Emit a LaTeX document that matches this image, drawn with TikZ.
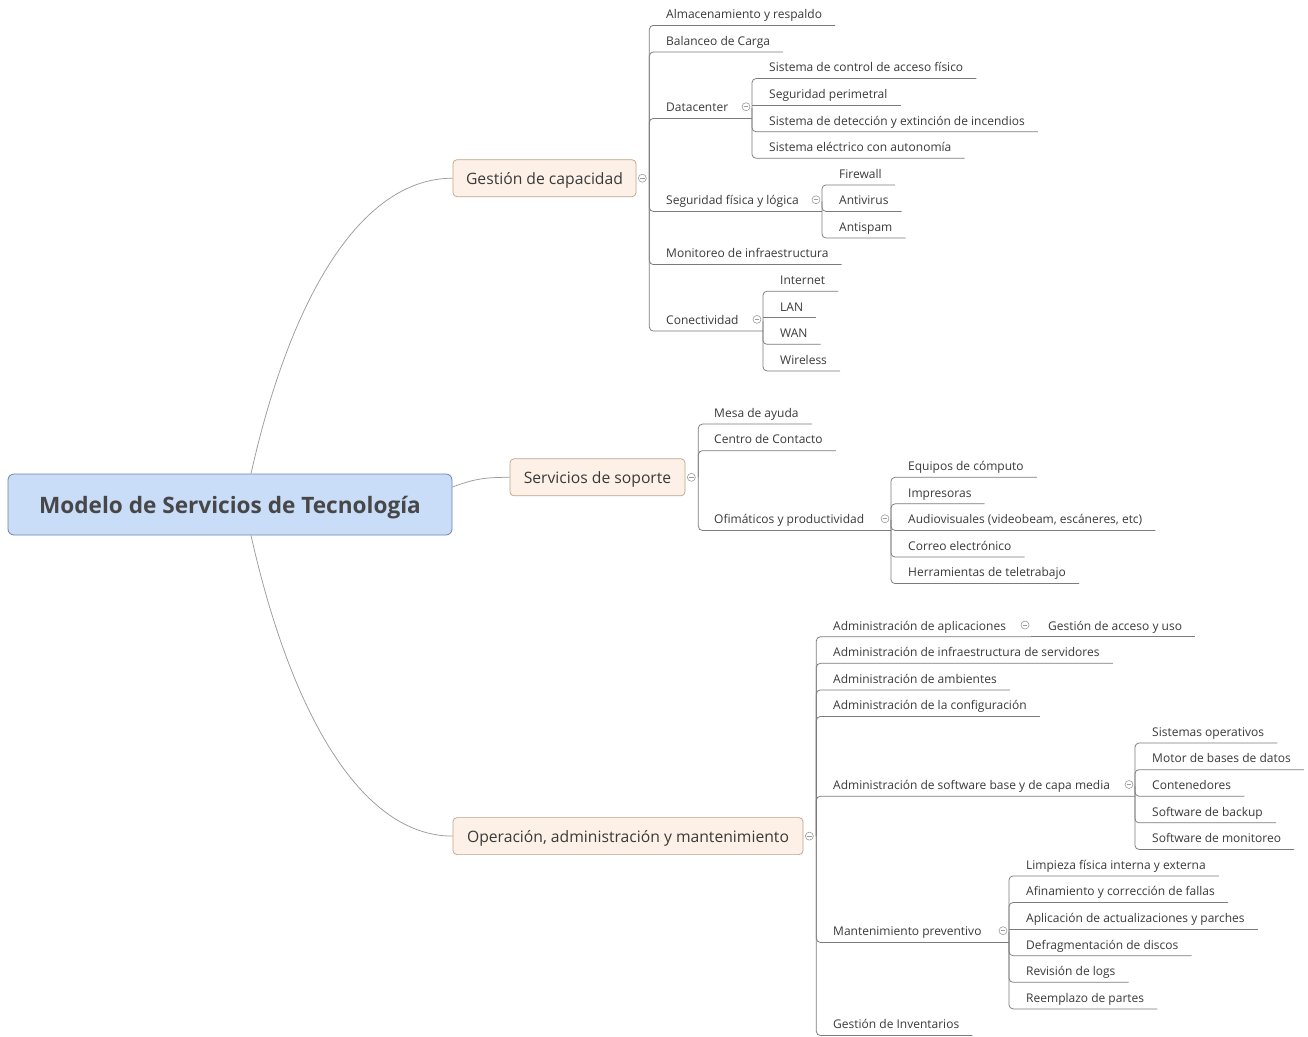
\documentclass[tikz,border=0pt]{standalone}
\usepackage{fontspec}
\setmainfont{Open Sans}
\usetikzlibrary{calc}
\definecolor{ink}{HTML}{3A3A3A}
\definecolor{rootink}{HTML}{474747}
\definecolor{wirec}{HTML}{7C7C7C}
\definecolor{arcc}{HTML}{9C9C9C}
\definecolor{rootfill}{HTML}{C9DCF8}
\definecolor{rootdraw}{HTML}{6C84AE}
\definecolor{topfill}{HTML}{FDF1E7}
\definecolor{topdraw}{HTML}{BFA28A}

\begin{document}
\begin{tikzpicture}[x=1pt,y=-1pt,
  rootbox/.style={draw=rootdraw, fill=rootfill, rounded corners=6pt, line width=0.8pt,
    minimum width=444pt, minimum height=61pt, inner sep=0pt, text=rootink,
    text height=20pt, text depth=3pt, font=\fontsize{22.6}{27}\selectfont\bfseries},
  topicbox/.style={draw=topdraw, fill=topfill, rounded corners=4pt, line width=0.7pt,
    minimum height=37pt, inner sep=0pt, text=ink, text height=15pt, text depth=2pt,
    font=\fontsize{15.7}{19}\selectfont},
  leaf/.style={anchor=south west, inner xsep=13pt, inner ysep=3.5pt, text height=10pt,
    text depth=3pt, text=ink, font=\fontsize{12}{15}\selectfont},
  wire/.style={draw=wirec, line width=0.75pt, rounded corners=4pt},
  arcline/.style={draw=arcc, line width=0.75pt},
  fold/.style={circle, draw=arcc, line width=0.6pt, minimum size=8pt, inner sep=0pt,
    path picture={\draw[arcc, line width=0.6pt]
      ([xshift=-2.3pt]path picture bounding box.center) --
      ([xshift=2.3pt]path picture bounding box.center);}},
]
\useasboundingbox[fill=white] (0,0) rectangle (1308,1036);

% ---------- central topic and main branches ----------
\node[rootbox] (root) at (230,504.5) {Modelo de Servicios de Tecnología};
\node[topicbox, minimum width=183pt] (cap) at (544.5,178.2) {Gestión de capacidad};
\node[topicbox, minimum width=175pt] (sop) at (597.5,477.3) {Servicios de soporte};
\node[topicbox, minimum width=350pt] (ope) at (628,836.1) {Operación, administración y mantenimiento};

\draw[arcline] ([xshift=21pt]root.north) .. controls +(39,-174) and +(-93,0) .. (cap.west);
\draw[arcline] ([yshift=17.5pt]root.east) .. controls +(22,-8) and +(-26,0) .. (sop.west);
\draw[arcline] ([xshift=21pt]root.south) .. controls +(39,174) and +(-93,0) .. (ope.west);

\foreach \t in {cap,sop,ope}{
  \node[fold] at ([xshift=6pt]\t.east) {};
  \coordinate (\t-j) at ([xshift=13pt]\t.east);
}

% ---------- Gestión de capacidad ----------
\node[leaf] (alm) at (653,25.4)   {Almacenamiento y respaldo};
\node[leaf] (bal) at (653,51.98)  {Balanceo de Carga};
\node[leaf] (dc)  at (653,118.43) {Datacenter};
\node[leaf] (seg) at (653,211.46) {Seguridad física y lógica};
\node[leaf] (mon) at (653,264.62) {Monitoreo de infraestructura};
\node[leaf] (con) at (653,331.07) {Conectividad};

\coordinate (dc-j)  at (752,0 |- dc.center);
\coordinate (seg-j) at (822,0 |- seg.center);
\coordinate (con-j) at (763,0 |- con.center);

\draw[wire] (cap-j) |- (alm.south east);
\draw[wire] (cap-j) |- (bal.south east);
\draw[wire] (cap-j) |- (dc-j |- dc.south);
\draw[wire] (cap-j) |- (seg-j |- seg.south);
\draw[wire] (cap-j) |- (mon.south east);
\draw[wire] (cap-j) |- (con-j |- con.south);

\node[leaf] (dc1) at (756,78.56)  {Sistema de control de acceso físico};
\node[leaf] (dc2) at (756,105.14) {Seguridad perimetral};
\node[leaf] (dc3) at (756,131.72) {Sistema de detección y extinción de incendios};
\node[leaf] (dc4) at (756,158.30) {Sistema eléctrico con autonomía};
\draw[wire] (dc-j) |- (dc1.south east);
\draw[wire] (dc-j |- dc2.south) -- (dc2.south east);
\draw[wire] (dc-j) |- (dc3.south east);
\draw[wire] (dc-j) |- (dc4.south east);

\node[leaf] (sg1) at (826,184.88) {Firewall};
\node[leaf] (sg2) at (826,211.46) {Antivirus};
\node[leaf] (sg3) at (826,238.04) {Antispam};
\draw[wire] (seg-j) |- (sg1.south east);
\draw[wire] (seg-j) |- (sg2.south east);
\draw[wire] (seg-j) |- (sg3.south east);

\node[leaf] (cn1) at (767,291.20) {Internet};
\node[leaf] (cn2) at (767,317.78) {LAN};
\node[leaf] (cn3) at (767,344.36) {WAN};
\node[leaf] (cn4) at (767,370.94) {Wireless};
\draw[wire] (con-j) |- (cn1.south east);
\draw[wire] (con-j |- cn2.south) -- (cn2.south east);
\draw[wire] (con-j) |- (cn3.south east);
\draw[wire] (con-j) |- (cn4.south east);

\foreach \p in {dc,seg,con}{ \node[fold] at ([xshift=-6pt,yshift=1.5pt]\p-j) {}; }

% ---------- Servicios de soporte ----------
\node[leaf] (mesa) at (701,424.10) {Mesa de ayuda};
\node[leaf] (cen)  at (701,450.68) {Centro de Contacto};
\node[leaf] (ofi)  at (701,530.42) {Ofimáticos y productividad};
\coordinate (ofi-j) at (891,0 |- ofi.center);

\draw[wire] (sop-j) |- (mesa.south east);
\draw[wire] (sop-j) |- (cen.south east);
\draw[wire] (sop-j) |- (ofi-j |- ofi.south);

\node[leaf] (of1) at (895,477.26) {Equipos de cómputo};
\node[leaf] (of2) at (895,503.84) {Impresoras};
\node[leaf] (of3) at (895,530.42) {Audiovisuales (videobeam, escáneres, etc)};
\node[leaf] (of4) at (895,557.00) {Correo electrónico};
\node[leaf] (of5) at (895,583.58) {Herramientas de teletrabajo};
\foreach \c in {of1,of2,of3,of4,of5}{ \draw[wire] (ofi-j) |- (\c.south east); }
\node[fold] at ([xshift=-6pt,yshift=1.5pt]ofi-j) {};

% ---------- Operación, administración y mantenimiento ----------
\node[leaf] (apl)  at (820,636.74)  {Administración de aplicaciones};
\node[leaf] (inf)  at (820,663.32)  {Administración de infraestructura de servidores};
\node[leaf] (amb)  at (820,689.90)  {Administración de ambientes};
\node[leaf] (cfg)  at (820,716.48)  {Administración de la configuración};
\node[leaf] (sw)   at (820,796.22)  {Administración de software base y de capa media};
\node[leaf] (mant) at (820,942.41)  {Mantenimiento preventivo};
\node[leaf] (inv)  at (820,1035.44) {Gestión de Inventarios};

\coordinate (apl-j)  at (1031,0 |- apl.center);
\coordinate (sw-j)   at (1135,0 |- sw.center);
\coordinate (mant-j) at (1009,0 |- mant.center);

\draw[wire] (ope-j) |- (apl-j |- apl.south);
\draw[wire] (ope-j) |- (inf.south east);
\draw[wire] (ope-j) |- (amb.south east);
\draw[wire] (ope-j) |- (cfg.south east);
\draw[wire] (ope-j) |- (sw-j |- sw.south);
\draw[wire] (ope-j) |- (mant-j |- mant.south);
\draw[wire] (ope-j) |- (inv.south east);

\node[leaf] (acc) at (1035,636.74) {Gestión de acceso y uso};
\draw[wire] (apl-j |- apl.south) -- (acc.south east);

\node[leaf] (sw1) at (1139,743.06) {Sistemas operativos};
\node[leaf] (sw2) at (1139,769.64) {Motor de bases de datos};
\node[leaf] (sw3) at (1139,796.22) {Contenedores};
\node[leaf] (sw4) at (1139,822.80) {Software de backup};
\node[leaf] (sw5) at (1139,849.38) {Software de monitoreo};
\foreach \c in {sw1,sw2,sw3,sw4,sw5}{ \draw[wire] (sw-j) |- (\c.south east); }

\node[leaf] (mt1) at (1013,875.96)  {Limpieza física interna y externa};
\node[leaf] (mt2) at (1013,902.54)  {Afinamiento y corrección de fallas};
\node[leaf] (mt3) at (1013,929.12)  {Aplicación de actualizaciones y parches};
\node[leaf] (mt4) at (1013,955.70)  {Defragmentación de discos};
\node[leaf] (mt5) at (1013,982.28)  {Revisión de logs};
\node[leaf] (mt6) at (1013,1008.86) {Reemplazo de partes};
\foreach \c in {mt1,mt2,mt4,mt5,mt6}{ \draw[wire] (mant-j) |- (\c.south east); }
\draw[wire] (mant-j |- mt3.south) -- (mt3.south east);

\foreach \p in {apl,sw,mant}{ \node[fold] at ([xshift=-6pt,yshift=1.5pt]\p-j) {}; }

\end{tikzpicture}
\end{document}
